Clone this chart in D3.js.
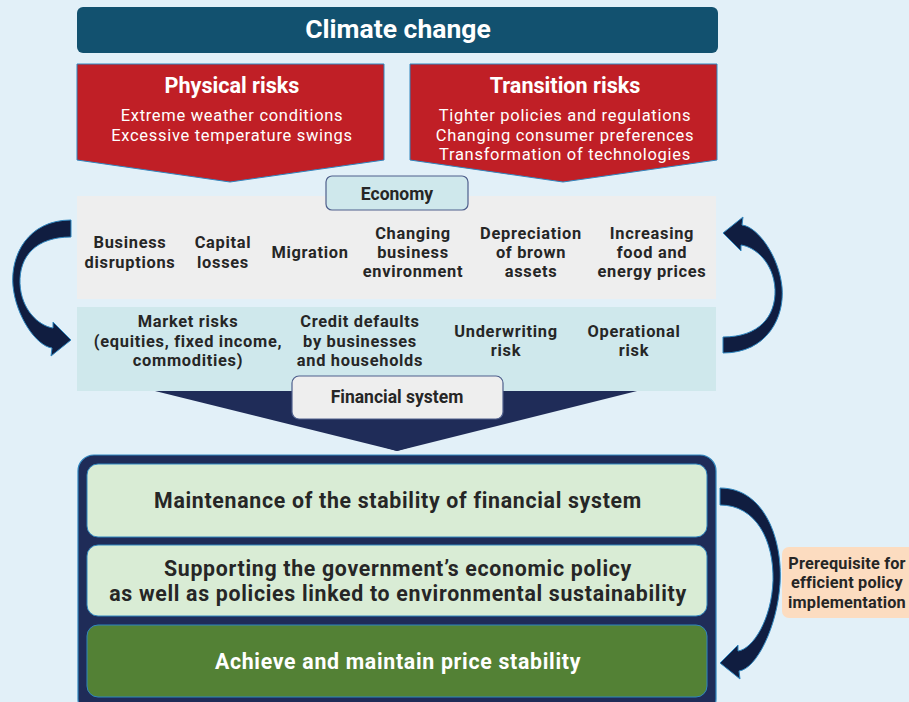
<!DOCTYPE html>
<html><head><meta charset="utf-8">
<script src="https://cdn.jsdelivr.net/npm/d3@7"></script>
<style>html,body{margin:0;padding:0;background:#e2f0f8;}svg{display:block;}</style>
</head><body>
<script>
// ---- content ----
const mainTitle = "Climate change";
const physicalRisks = ["Physical risks", "Extreme weather conditions", "Excessive temperature swings"];
const transitionRisks = ["Transition risks", "Tighter policies and regulations", "Changing consumer preferences", "Transformation of technologies"];
const economyLabel = "Economy";
const economyItems = [["Business","disruptions"],["Capital","losses"],["Migration"],["Changing","business","environment"],["Depreciation","of brown","assets"],["Increasing","food and","energy prices"]];
const financialItems = [["Market risks","(equities, fixed income,","commodities)"],["Credit defaults","by businesses","and households"],["Underwriting","risk"],["Operational","risk"]];
const financialLabel = "Financial system";
const policyGoals = [["Maintenance of the stability of financial system"],["Supporting the government’s economic policy","as well as policies linked to environmental sustainability"],["Achieve and maintain price stability"]];
const prerequisite = ["Prerequisite for","efficient policy","implementation"];

// ---- layout ----
const W = 909, H = 702;
const FONT = "Roboto, sans-serif";
const C = {bg:"#e2f0f8", title:"#12516f", red:"#c01f26", gray:"#eeeeee", teal:"#cfe8ec", navy:"#1f2c58",
  lightGreen:"#d9ecd5", green:"#538135", peach:"#fcdcc0", text:"#262626", edge:"#2f86bf", arrow:"#101d40"};
const economyX = [130, 223, 310, 413, 531, 652];
const financialX = [188, 360, 506, 634];

const svg = d3.select("body").append("svg").attr("width", W).attr("height", H);
svg.append("rect").attr("width", W).attr("height", H).attr("fill", C.bg);

// multi-line text as one <text> with tspans, vertically centred on cy
function multiline(g, lines, cx, cy, lh, size, ls) {
  const y0 = cy - (lines.length-1)*lh/2;
  const t = g.append("text").attr("x",cx).attr("y",y0).attr("font-size",size).attr("letter-spacing", ls || 0);
  lines.forEach((s,i) => t.append("tspan").attr("x",cx).attr("y",y0+i*lh).text(s));
  return t;
}

// Title bar
svg.append("rect").attr("x",77).attr("y",7).attr("width",641).attr("height",46).attr("rx",6).attr("fill",C.title);
svg.append("text").attr("x",398).attr("y",38).attr("text-anchor","middle").attr("font-family",FONT)
  .attr("font-weight",700).attr("font-size",26.5).attr("fill","#fff").text(mainTitle);

// Red pentagons
function pentagon(x0, x1, tipX) {
  return `M${x0},64 L${x1},64 L${x1},160 L${tipX},182 L${x0},160 Z`;
}
[[physicalRisks,77,384,230,232],[transitionRisks,410,717,563,565]].forEach(([lines,x0,x1,tip,cx]) => {
  svg.append("path").attr("d", pentagon(x0,x1,tip)).attr("fill",C.red).attr("stroke",C.edge).attr("stroke-width",1);
  const g = svg.append("g").attr("font-family",FONT).attr("fill","#fff").attr("text-anchor","middle");
  g.append("text").attr("x",cx).attr("y",93).attr("font-weight",700).attr("font-size",21.6).text(lines[0]);
  const body = lines.slice(1);
  multiline(g, body, cx, 121 + (body.length-1)*19.5/2, 19.5, 16.5, 0.7);
});

// Economy band
svg.append("rect").attr("x",77).attr("y",196).attr("width",639).attr("height",103).attr("fill",C.gray);
svg.append("rect").attr("x",326).attr("y",176).attr("width",142).attr("height",34).attr("rx",6)
  .attr("fill",C.teal).attr("stroke","#4f5f8c").attr("stroke-width",1.2);
svg.append("text").attr("x",397).attr("y",200).attr("text-anchor","middle").attr("font-family",FONT)
  .attr("font-weight",700).attr("font-size",17.5).attr("fill",C.text).text(economyLabel);

const eg = svg.append("g").attr("font-family",FONT).attr("font-weight",700).attr("fill",C.text).attr("text-anchor","middle");
economyItems.forEach((lines,i) => multiline(eg, lines, economyX[i], 258, 19.3, 16.4, 0.7));

// Navy triangle (behind teal band)
svg.append("path").attr("d","M155,380 L637,380 L397,451 Z").attr("fill",C.navy);

// Financial band
svg.append("rect").attr("x",77).attr("y",307).attr("width",639).attr("height",84).attr("fill",C.teal);
const fg = svg.append("g").attr("font-family",FONT).attr("font-weight",700).attr("fill",C.text).attr("text-anchor","middle");
financialItems.forEach((lines,i) => multiline(fg, lines, financialX[i], 346.5, 19.5, 16.4, 0.7));
svg.append("path").attr("d","M155,391 L637,391 L397,451 Z").attr("fill",C.navy);
svg.append("rect").attr("x",292).attr("y",376).attr("width",211).attr("height",43).attr("rx",7)
  .attr("fill",C.gray).attr("stroke","#4f5f8c").attr("stroke-width",1.2);
svg.append("text").attr("x",397).attr("y",403).attr("text-anchor","middle").attr("font-family",FONT)
  .attr("font-weight",700).attr("font-size",17.5).attr("fill",C.text).text(financialLabel);

// Policy stack
svg.append("rect").attr("x",78).attr("y",455).attr("width",638).attr("height",260).attr("rx",16)
  .attr("fill",C.navy).attr("stroke",C.edge).attr("stroke-width",1.2);
const boxY = [464, 545, 625], boxH = [73, 71, 72];
policyGoals.forEach((lines,i) => {
  const dark = i === 2;
  svg.append("rect").attr("x",87).attr("y",boxY[i]).attr("width",620).attr("height",boxH[i]).attr("rx",11)
    .attr("fill", dark ? C.green : C.lightGreen).attr("stroke",C.edge).attr("stroke-width",1);
  const g = svg.append("g").attr("font-family",FONT).attr("font-weight",700).attr("text-anchor","middle")
    .attr("fill", dark ? "#fff" : C.text);
  multiline(g, lines, 398, boxY[i] + boxH[i]/2 + 7.5, 25, 21.3, 0.7);
});

// Prerequisite box
svg.append("rect").attr("x",782).attr("y",547).attr("width",140).attr("height",71).attr("rx",7).attr("fill",C.peach);
const pg = svg.append("g").attr("font-family",FONT).attr("font-weight",700).attr("fill",C.text).attr("text-anchor","middle");
multiline(pg, prerequisite, 847, 588, 19.5, 16.3, 0.2);

// Curved arrows: tail at (0,0)-(0,T), tip at (0,L), bulge to x=B
function arrowD(L, B, T) {
  return `M0,0 C${B*0.75},0 ${B*1.05},${L*0.3} ${B},${L*0.55}` +
    ` C${B*0.95},${L*0.8} ${B*0.6},${L+6} 19,${L+8} L20,${L+16} L0,${L} L18,${L-18} L18,${L-12}` +
    ` C${B*0.55},${L-14} ${B*0.86},${L*0.75} ${B-7},${L*0.53}` +
    ` C${B-6},${L*0.3} ${B*0.6},${T} 0,${T} Z`;
}
const arrows = [
  {tx:71, ty:220, sx:-1, sy:1, L:120, B:58, T:17},
  {tx:723, ty:353, sx:1, sy:-1, L:120, B:59, T:16},
  {tx:720, ty:488, sx:1, sy:1, L:175, B:60, T:17}
];
arrows.forEach(a => {
  svg.append("path").attr("d", arrowD(a.L, a.B, a.T))
    .attr("transform", `translate(${a.tx},${a.ty}) scale(${a.sx},${a.sy})`)
    .attr("fill", C.arrow).attr("stroke", C.edge).attr("stroke-width", 1);
});
</script>
</body></html>
